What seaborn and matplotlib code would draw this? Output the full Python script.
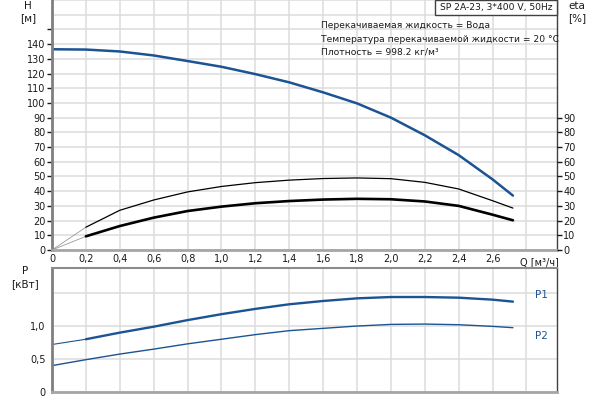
import matplotlib
matplotlib.use("Agg")
import matplotlib.pyplot as plt
from matplotlib.patches import Rectangle
import seaborn as sns

# Data
q = [0, 0.2, 0.4, 0.6, 0.8, 1.0, 1.2, 1.4, 1.6, 1.8, 2.0, 2.2, 2.4, 2.6, 2.72]
head = [136.5, 136.3, 135, 132.3, 128.5, 124.6, 119.6, 114, 107.2, 99.7, 90, 78, 64.5, 48, 37]
eta_pump = [0, 15.5, 27, 34, 39.5, 43.2, 45.8, 47.5, 48.6, 49, 48.5, 46, 41.5, 33.5, 28.5]
eta_total = [0, 9.3, 16.3, 22, 26.5, 29.5, 31.8, 33.3, 34.3, 34.8, 34.5, 33, 30, 24, 20.2]
p1 = [0.72, 0.80, 0.90, 0.99, 1.09, 1.18, 1.26, 1.33, 1.38, 1.42, 1.44, 1.44, 1.43, 1.40, 1.37]
p2 = [0.40, 0.49, 0.575, 0.65, 0.73, 0.80, 0.87, 0.93, 0.965, 1.0, 1.025, 1.03, 1.02, 0.995, 0.975]

x_ticks = [0, 0.2, 0.4, 0.6, 0.8, 1.0, 1.2, 1.4, 1.6, 1.8, 2.0, 2.2, 2.4, 2.6, 2.8]
x_labels = ["0", "0,2", "0,4", "0,6", "0,8", "1,0", "1,2", "1,4", "1,6", "1,8", "2,0", "2,2", "2,4", "2,6", ""]
h_ticks = list(range(0, 160, 10))
h_labels = [str(v) for v in range(0, 150, 10)] + [""]
eta_ticks = list(range(0, 100, 10))
p_ticks = [0, 0.5, 1.0, 1.5]
p_labels = ["0", "0,5", "1,0", ""]

info_lines = ["Перекачиваемая жидкость = Вода",
              "Температура перекачиваемой жидкости = 20 °C",
              "Плотность = 998.2 кг/м³"]
title = "SP 2A-23, 3*400 V, 50Hz"

sns.set_style("white")
plt.rcParams['font.family'] = ['DejaVu Sans']
plt.rcParams['font.size'] = 7

blue = '#1b5393'
grid_c = '#dcdcdc'
txt_c = '#1a1a1a'
W, H = 600, 400

fig = plt.figure(figsize=(6, 4), dpi=100)
ax = fig.add_axes([52 / W, 1 - 250 / H, 505 / W, 250 / H])
ax2 = fig.add_axes([52 / W, 1 - 392 / H, 505 / W, 124 / H])

# ---- top: head and efficiency ----
ax.set_xlim(0, 2.98)
ax.set_ylim(0, 170)
ax.set_xticks(x_ticks)
ax.set_xticklabels(x_labels)
ax.set_yticks(h_ticks)
ax.set_yticklabels(h_labels)
ax.set_yticks(range(0, 180, 10), minor=True)
ax.grid(True, which='both', color=grid_c, linewidth=1.1)
ax.set_axisbelow(True)
ax.tick_params(axis='x', length=0, pad=3, labelsize=7, colors=txt_c)
ax.tick_params(axis='y', which='major', length=3.5, width=1, pad=1, labelsize=7, colors=txt_c)
ax.tick_params(axis='y', which='minor', length=0)

# thin start segments from origin
sns.lineplot(x=q[:2], y=eta_pump[:2], ax=ax, color='#999999', linewidth=0.6)
sns.lineplot(x=q[:2], y=eta_total[:2], ax=ax, color='#999999', linewidth=0.6)
sns.lineplot(x=q[1:], y=eta_pump[1:], ax=ax, color='black', linewidth=0.9)
sns.lineplot(x=q[1:], y=eta_total[1:], ax=ax, color='black', linewidth=1.9)
sns.lineplot(x=q, y=head, ax=ax, color=blue, linewidth=1.8)

ax.spines['top'].set_visible(False)
ax.spines['left'].set_color('#7f7f7f')
ax.spines['left'].set_linewidth(2)
ax.spines['bottom'].set_color('#a6a6a6')
ax.spines['bottom'].set_linewidth(2)
ax.spines['right'].set_color('#404040')
ax.spines['right'].set_linewidth(1)

axr = ax.twinx()
axr.set_ylim(0, 170)
axr.set_yticks(eta_ticks)
axr.set_yticklabels([str(v) for v in eta_ticks])
axr.tick_params(axis='y', length=3.5, width=1, pad=1, labelsize=7, colors=txt_c)
for s in axr.spines.values():
    s.set_visible(False)

ax.text(2.76, -8.5, "Q [м³/ч]", fontsize=7, color=txt_c, ha='left', va='center', clip_on=False)

# ---- bottom: power ----
ax2.set_xlim(0, 2.98)
ax2.set_ylim(0, 1.88)
ax2.set_xticks(x_ticks)
ax2.set_xticklabels([])
ax2.set_yticks(p_ticks)
ax2.set_yticklabels(p_labels)
ax2.grid(True, color=grid_c, linewidth=1.1)
ax2.set_axisbelow(True)
ax2.tick_params(axis='x', length=0)
ax2.tick_params(axis='y', length=3.5, width=1, pad=1, labelsize=7, colors=txt_c)

sns.lineplot(x=q[:2], y=p1[:2], ax=ax2, color=blue, linewidth=0.8)
sns.lineplot(x=q[1:], y=p1[1:], ax=ax2, color=blue, linewidth=1.7)
sns.lineplot(x=q, y=p2, ax=ax2, color=blue, linewidth=1.0)

ax2.spines['left'].set_color('#7f7f7f')
ax2.spines['left'].set_linewidth(2)
ax2.spines['bottom'].set_color('#a6a6a6')
ax2.spines['bottom'].set_linewidth(2)
ax2.spines['top'].set_color('#8c8c8c')
ax2.spines['top'].set_linewidth(1.5)
ax2.spines['right'].set_color('#404040')
ax2.spines['right'].set_linewidth(1)

# ---- texts ----
fig.text(28 / W, 1 - 6 / H, "H", ha='center', va='center', fontsize=7.5, color=txt_c)
fig.text(28 / W, 1 - 18 / H, "[м]", ha='center', va='center', fontsize=7.5, color=txt_c)
fig.text(577 / W, 1 - 6 / H, "eta", ha='center', va='center', fontsize=7.5, color=txt_c)
fig.text(577 / W, 1 - 18 / H, "[%]", ha='center', va='center', fontsize=7.5, color=txt_c)
fig.text(25 / W, 1 - 271 / H, "P", ha='center', va='center', fontsize=7.5, color=txt_c)
fig.text(25 / W, 1 - 284 / H, "[кВт]", ha='center', va='center', fontsize=7.5, color=txt_c)
fig.text(541 / W, 1 - 295 / H, "P1", ha='center', va='center', fontsize=7.5, color=blue)
fig.text(541 / W, 1 - 336 / H, "P2", ha='center', va='center', fontsize=7.5, color=blue)

for i, line in enumerate(info_lines):
    fig.text(321 / W, 1 - (26 + 13 * i) / H, line, ha='left', va='center', fontsize=6.6, color=txt_c)

fig.patches.append(Rectangle((435 / W, 1 - 15 / H), 122 / W, 15 / H, transform=fig.transFigure,
                             facecolor='white', edgecolor='#404040', linewidth=1, zorder=5))
fig.text(496 / W, 1 - 7.5 / H, title, ha='center', va='center', fontsize=6.6, color=txt_c, zorder=6)

fig.savefig("out.png", dpi=100)
